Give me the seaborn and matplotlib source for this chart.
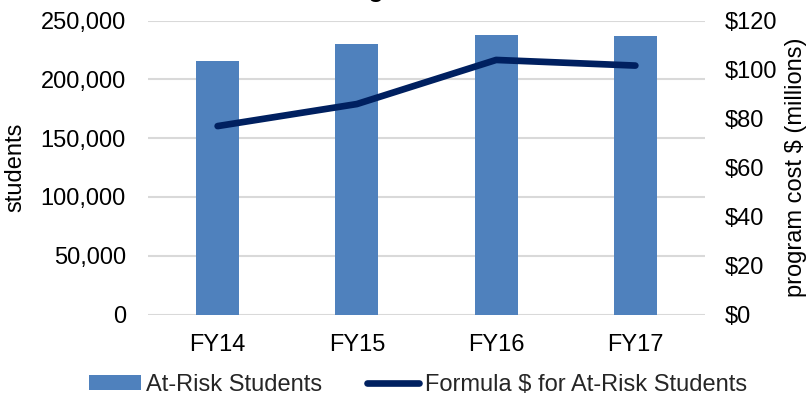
import matplotlib
matplotlib.use("Agg")
import matplotlib.pyplot as plt
import seaborn as sns
import pandas as pd
from matplotlib.patches import Patch
from matplotlib.lines import Line2D
from matplotlib.ticker import FuncFormatter, MultipleLocator

# ---- data ----
years = ["FY14", "FY15", "FY16", "FY17"]
students = [215500, 230200, 237600, 236500]
formula_millions = [76.9, 85.9, 103.9, 101.6]
bar_label = "At-Risk Students"
line_label = "Formula $ for At-Risk Students"
title_text = "At-Risk Funding"

sns.set_theme(style="white")
plt.rcParams["font.family"] = ["Liberation Sans", "DejaVu Sans"]

BAR = "#4f81bd"
LINE = "#002060"
GRID = "#d9d9d9"
FS = 17

df = pd.DataFrame({"year": years, "students": students, "cost": formula_millions})

fig = plt.figure(figsize=(8.08, 4.01), dpi=100)
ax = fig.add_axes([148/808, 1-314.5/401, (705-148)/808, (314.5-20.5)/401])

sns.barplot(data=df, x="year", y="students", color=BAR, width=0.31,
            saturation=1, ax=ax, zorder=3)
for p in ax.patches:
    p.set_edgecolor("none")

ax.set_ylim(0, 250000)
ax.yaxis.set_major_locator(MultipleLocator(50000))
ax.yaxis.set_major_formatter(FuncFormatter(lambda v, _: f"{int(v):,}"))
ax.grid(axis="y", color=GRID, linewidth=1.5, zorder=0)
ax.set_axisbelow(True)
for s in ax.spines.values():
    s.set_visible(False)
ax.tick_params(axis="y", length=0, pad=16, labelsize=FS, colors="black")
ax.tick_params(axis="x", length=0, pad=14, labelsize=FS, colors="black")
ax.set_xlabel("")
ax.set_ylabel("students", fontsize=FS, color="black")
ax.yaxis.set_label_coords(-(148 - 26)/557, 0.5)

ax2 = ax.twinx()
sns.pointplot(data=df, x="year", y="cost", color=LINE, markers="",
              linestyles="-", ax=ax2, errorbar=None)
for ln in ax2.lines:
    ln.set_linewidth(4.8)
    ln.set_solid_capstyle("round")
    ln.set_solid_joinstyle("round")
ax2.set_ylim(0, 120)
ax2.yaxis.set_major_locator(MultipleLocator(20))
ax2.yaxis.set_major_formatter(FuncFormatter(lambda v, _: f"${int(v)}"))
for s in ax2.spines.values():
    s.set_visible(False)
ax2.tick_params(axis="y", length=0, pad=14, labelsize=FS, colors="black")
ax2.set_ylabel("program cost $ (millions)", fontsize=FS, color="black")
ax2.yaxis.set_label_coords((785 - 148)/557, 0.5)
ax2.grid(False)
ax.set_xlim(-0.5, 3.5)
ax.set_xlabel("")

handles = [Patch(facecolor=BAR, edgecolor="none"),
           Line2D([0], [0], color=LINE, linewidth=4.8, solid_capstyle="round")]
fig.legend(handles, [bar_label, line_label], loc="center",
           bbox_to_anchor=(418/808, 1-385/401), ncol=2, frameon=False,
           fontsize=FS, handlelength=2.2, handleheight=0.6,
           handletextpad=0.25, columnspacing=1.9)

fig.text(384/808, 1 + 3/401, title_text, ha="right", va="baseline",
         fontsize=18, fontweight="bold", color="black")

fig.savefig("out.png", dpi=100)
